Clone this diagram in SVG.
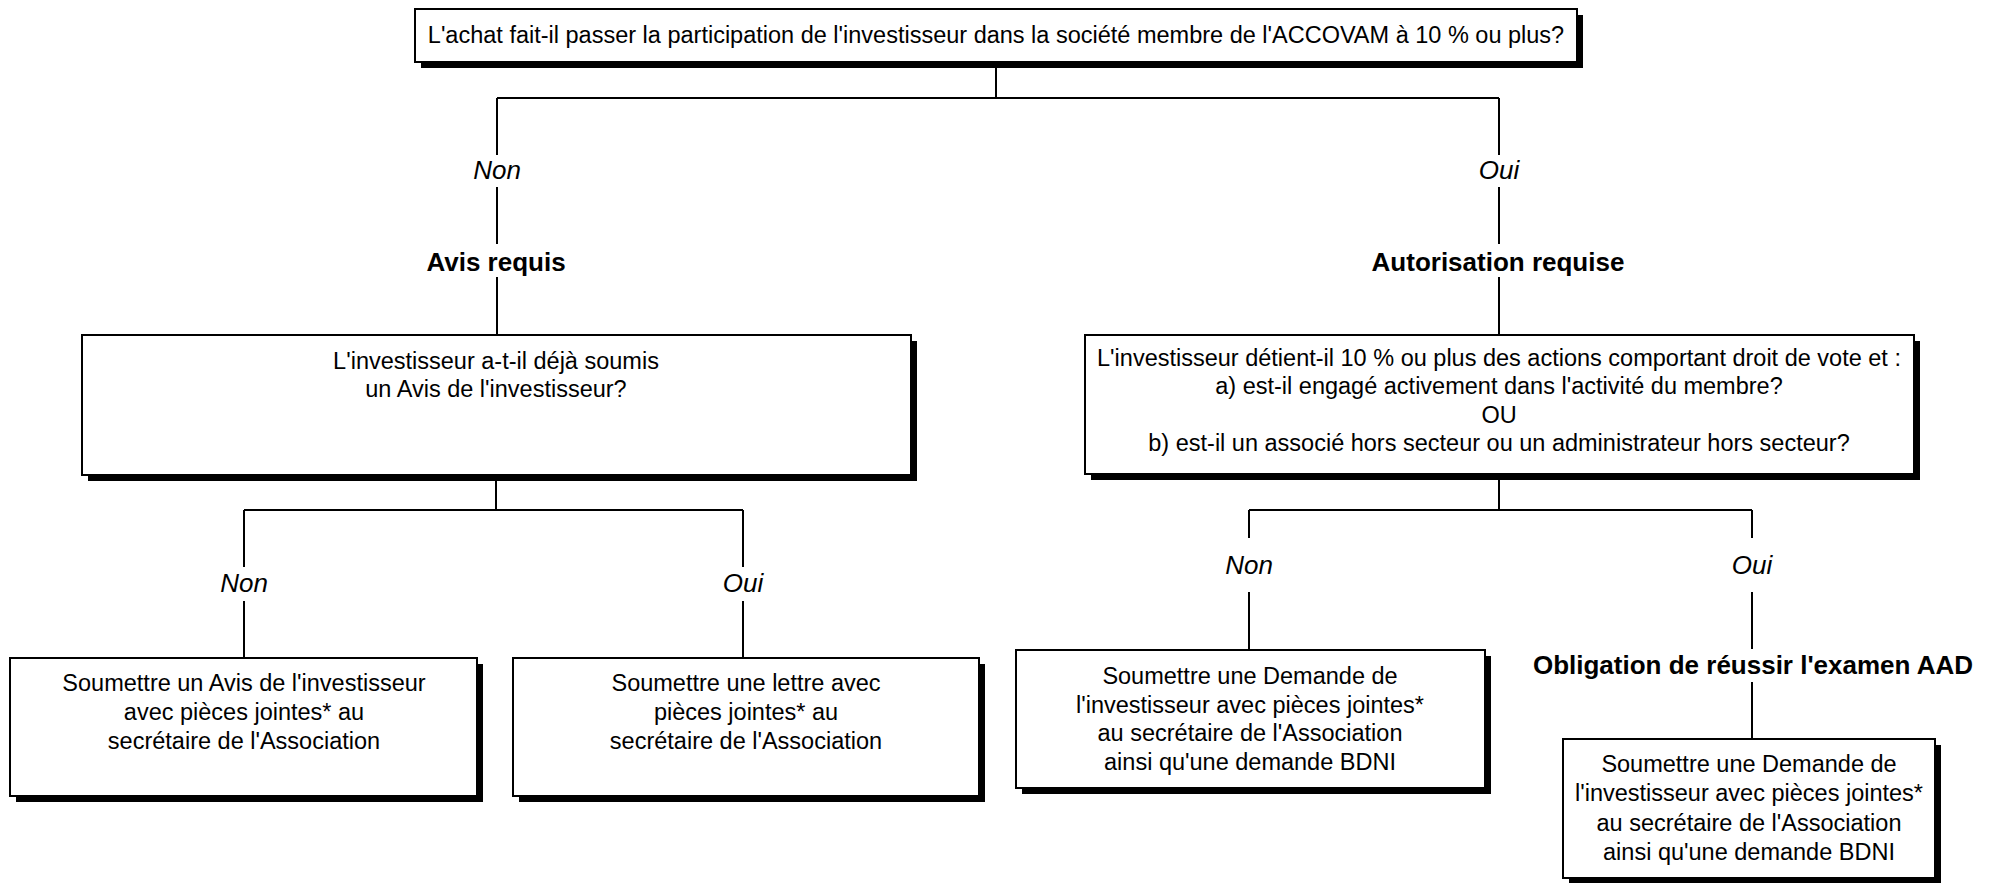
<svg xmlns="http://www.w3.org/2000/svg" width="1992" height="883" viewBox="0 0 1992 883">
<style>
.box{fill:#fff;stroke:#000;stroke-width:2}
.sh{fill:#000}
.t{font-family:"Liberation Sans",Arial,sans-serif;font-size:23.5px;fill:#000;text-anchor:middle}
.lb{font-family:"Liberation Sans",Arial,sans-serif;font-size:26px;fill:#000;text-anchor:middle;font-style:italic}
.bd{font-family:"Liberation Sans",Arial,sans-serif;font-size:26px;fill:#000;text-anchor:middle;font-weight:bold}
.c{fill:none;stroke:#000;stroke-width:2}
</style>
<rect width="1992" height="883" fill="#fff"/>
<g id="connectors">
<path class="c" d="M996 62V98M497 98H1499"/>
<path class="c" d="M497 98V155M497 187V244M497 277V335"/>
<path class="c" d="M1499 98V155M1499 187V244M1499 277V335"/>
<path class="c" d="M496 475V510M244 510H743"/>
<path class="c" d="M244 510V567M244 601V658"/>
<path class="c" d="M743 510V567M743 601V658"/>
<path class="c" d="M1499 474V510M1249 510H1752"/>
<path class="c" d="M1249 510V538M1249 592V650"/>
<path class="c" d="M1752 510V538M1752 592V649M1752 682V739"/>
</g>
<g id="labels">
<text class="lb" x="497" y="179">Non</text>
<text class="lb" x="1499" y="179">Oui</text>
<text class="bd" id="avis-requis" x="496" y="271">Avis requis</text>
<text class="bd" id="autorisation-requise" x="1498" y="271">Autorisation requise</text>
<text class="lb" x="244" y="592">Non</text>
<text class="lb" x="743" y="592">Oui</text>
<text class="lb" x="1249" y="574">Non</text>
<text class="lb" x="1752" y="574">Oui</text>
<text class="bd" id="obligation" x="1753" y="674">Obligation de réussir l'examen AAD</text>
</g>
<g id="q1">
<rect class="sh" x="421" y="15" width="1162" height="53"/>
<rect class="box" x="415" y="9" width="1162" height="53"/>
<text class="t" x="996" y="43">L'achat fait-il passer la participation de l'investisseur dans la société membre de l'ACCOVAM à 10 % ou plus?</text>
</g>
<g id="q2">
<rect class="sh" x="88" y="341" width="829" height="140"/>
<rect class="box" x="82" y="335" width="829" height="140"/>
<text class="t" x="496" y="369">L'investisseur a-t-il déjà soumis</text>
<text class="t" x="496" y="397">un Avis de l'investisseur?</text>
</g>
<g id="q3">
<rect class="sh" x="1091" y="341" width="829" height="139"/>
<rect class="box" x="1085" y="335" width="829" height="139"/>
<text class="t" x="1499" y="366">L'investisseur détient-il 10 % ou plus des actions comportant droit de vote et :</text>
<text class="t" x="1499" y="394">a) est-il engagé activement dans l'activité du membre?</text>
<text class="t" x="1499" y="423">OU</text>
<text class="t" x="1499" y="451">b) est-il un associé hors secteur ou un administrateur hors secteur?</text>
</g>
<g id="a1">
<rect class="sh" x="16" y="664" width="467" height="138"/>
<rect class="box" x="10" y="658" width="467" height="138"/>
<text class="t" x="244" y="691">Soumettre un Avis de l'investisseur</text>
<text class="t" x="244" y="720">avec pièces jointes* au</text>
<text class="t" x="244" y="749">secrétaire de l'Association</text>
</g>
<g id="a2">
<rect class="sh" x="519" y="664" width="466" height="138"/>
<rect class="box" x="513" y="658" width="466" height="138"/>
<text class="t" x="746" y="691">Soumettre une lettre avec</text>
<text class="t" x="746" y="720">pièces jointes* au</text>
<text class="t" x="746" y="749">secrétaire de l'Association</text>
</g>
<g id="a3">
<rect class="sh" x="1022" y="656" width="469" height="138"/>
<rect class="box" x="1016" y="650" width="469" height="138"/>
<text class="t" x="1250" y="684">Soumettre une Demande de</text>
<text class="t" x="1250" y="713">l'investisseur avec pièces jointes*</text>
<text class="t" x="1250" y="741">au secrétaire de l'Association</text>
<text class="t" x="1250" y="770">ainsi qu'une demande BDNI</text>
</g>
<g id="a4">
<rect class="sh" x="1569" y="745" width="372" height="138"/>
<rect class="box" x="1563" y="739" width="372" height="139"/>
<text class="t" x="1749" y="772">Soumettre une Demande de</text>
<text class="t" x="1749" y="801">l'investisseur avec pièces jointes*</text>
<text class="t" x="1749" y="831">au secrétaire de l'Association</text>
<text class="t" x="1749" y="860">ainsi qu'une demande BDNI</text>
</g>
</svg>
